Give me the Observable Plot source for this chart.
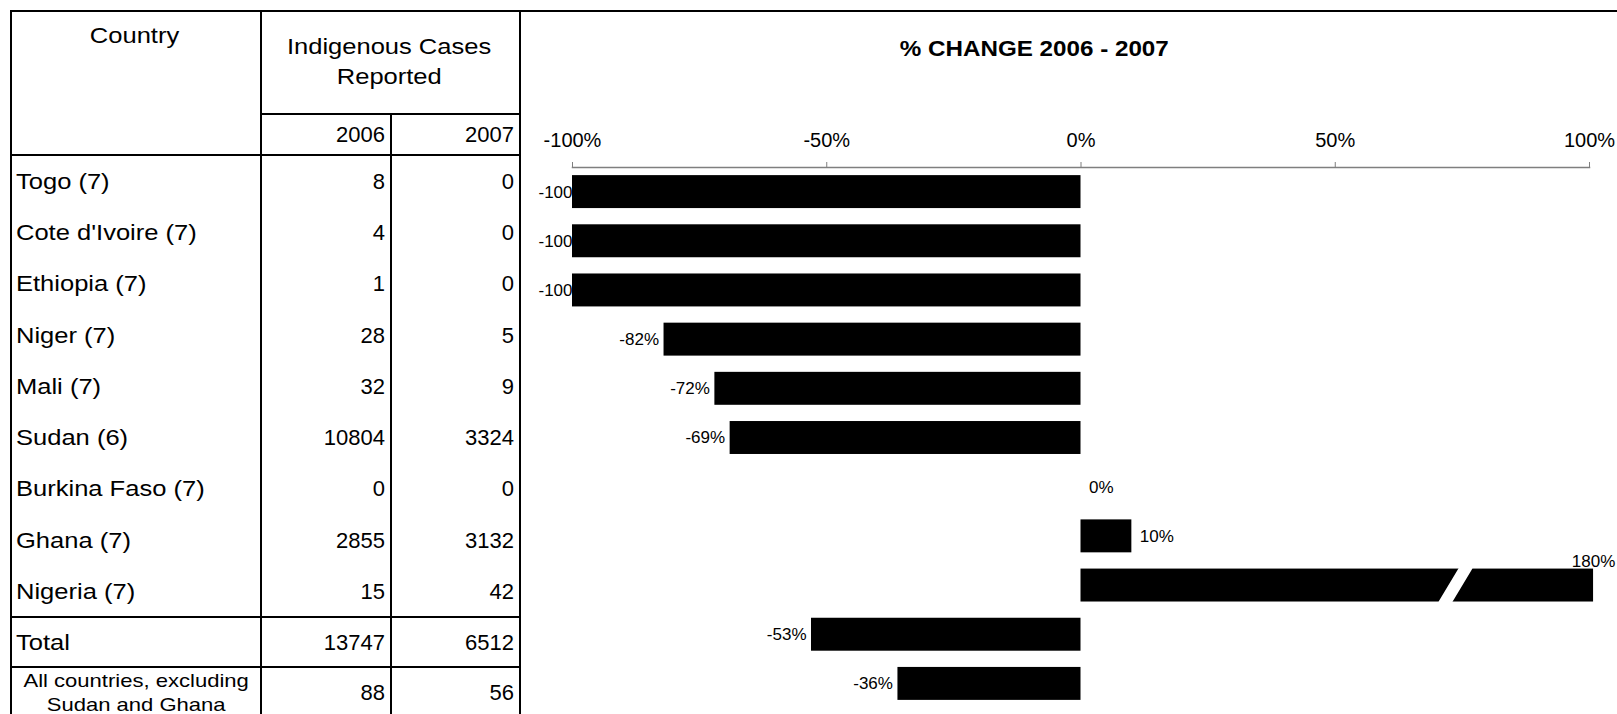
<!DOCTYPE html>
<html>
<head>
<meta charset="utf-8">
<script src="https://cdn.jsdelivr.net/npm/d3@7"></script>
<script src="https://cdn.jsdelivr.net/npm/@observablehq/plot@0.6"></script>
<style>
  html, body { margin: 0; padding: 0; background: #fff; }
  #wrap { position: relative; width: 1617px; height: 714px; overflow: hidden; background: #fff;
          font-family: "Liberation Sans", Arial, sans-serif; color: #000; }
  .ln { position: absolute; background: #000; }
  .cell { position: absolute; display: flex; align-items: center; font-size: 22px; line-height: 1; white-space: nowrap; }
  .l { justify-content: flex-start; padding-left: 4px; box-sizing: border-box; }
  .r { justify-content: flex-end; padding-right: 5px; box-sizing: border-box; }
  .c { justify-content: center; text-align: center; }
  .wide { display: inline-block; transform: scaleX(1.16); }
  .l .wide { transform-origin: left center; }
  .c .wide { transform-origin: center center; }
  #title { position: absolute; left: 834px; width: 400px; top: 36px; text-align: center;
           font-weight: bold; font-size: 22px; }
  #title span { display: inline-block; transform: scaleX(1.1); }
  #chart { position: absolute; left: 0; top: 0; }
</style>
</head>
<body>
<div id="wrap">
  <div id="chart"></div>
  <div id="table"></div>
  <div id="title"><span>% CHANGE 2006 - 2007</span></div>
</div>
<script>
// ---- data ----
const countries = ["Togo (7)", "Cote d'Ivoire (7)", "Ethiopia (7)", "Niger (7)", "Mali (7)", "Sudan (6)",
  "Burkina Faso (7)", "Ghana (7)", "Nigeria (7)", "Total", "All countries, excluding Sudan and Ghana"];
const cases2006 = [8, 4, 1, 28, 32, 10804, 0, 2855, 15, 13747, 88];
const cases2007 = [0, 0, 0, 5, 9, 3324, 0, 3132, 42, 6512, 56];
const pctChange = [-100, -100, -100, -82, -72, -69, 0, 10, 180, -53, -36];
const xTicks = [-100, -50, 0, 50, 100];
const yearLabels = ["2006", "2007"];
const breakClip = 100.8;   // where the broken (off-scale) bar is cut
const breakAt = 73.6;      // position of the break slash

const rows = countries.map((c, i) => ({country: c, y2006: cases2006[i], y2007: cases2007[i], pct: pctChange[i]}));

// ---- table (HTML) ----
const tbl = document.getElementById("table");
function line(x, y, w, h) {
  const d = document.createElement("div"); d.className = "ln";
  Object.assign(d.style, {left: x + "px", top: y + "px", width: w + "px", height: h + "px"});
  tbl.appendChild(d);
}
function cell(cls, x, y, w, h, html, extra) {
  const d = document.createElement("div"); d.className = "cell " + cls;
  Object.assign(d.style, {left: x + "px", top: y + "px", width: w + "px", height: h + "px"}, extra || {});
  d.innerHTML = html; tbl.appendChild(d);
}
const wide = s => `<span class="wide">${s}</span>`;
const X0 = 10, X1 = 260, X2 = 390, X3 = 519;
const Ytop = 10, Yh1 = 113, Yh2 = 154, rowH = 51.3;
// header
line(X0, Ytop, 1617 - X0, 2);
line(X0, Ytop, 2, 714);
line(X1, Ytop, 2, 714);
line(X3, Ytop, 2, 714);
line(X2, Yh1, 2, 714);
line(X1, Yh1, X3 - X1, 2);
line(X0, Yh2, X3 - X0 + 2, 2);
cell("c", X0, 22, X1 - X0, 28, wide("Country"));
cell("c", X1, 32, X3 - X1, 30, wide("Indigenous Cases"));
cell("c", X1, 62, X3 - X1, 30, wide("Reported"));
cell("r", X1, Yh1 + 2, X2 - X1, Yh2 - Yh1 - 2, yearLabels[0]);
cell("r", X2, Yh1 + 2, X3 - X2, Yh2 - Yh1 - 2, yearLabels[1]);
// body
let y = Yh2 + 2;
rows.forEach((r, i) => {
  const h = i < 9 ? rowH : 50;
  if (i === 9) { line(X0, 616, X3 - X0 + 2, 2); y = 618; }
  if (i === 10) { line(X0, 666, X3 - X0 + 2, 2); y = 668; }
  if (i < 10) cell("l", X0 + 2, y, X1 - X0 - 2, h, wide(r.country));
  else cell("c", X0 + 2, y, X1 - X0 - 2, h,
    wide("All countries, excluding<br>Sudan and Ghana"), {fontSize: "19px", lineHeight: "24px"});
  cell("r", X1 + 2, y, X2 - X1 - 2, h, r.y2006);
  cell("r", X2 + 2, y, X3 - X2 - 2, h, r.y2007);
  y += h;
});

// ---- chart (Plot) ----
const fmt = d => d + "%";
const chart = Plot.plot({
  width: 1617,
  height: 714,
  marginLeft: 572,
  marginRight: 28,
  marginTop: 167,
  marginBottom: 6,
  style: {fontFamily: "'Liberation Sans', Arial, sans-serif", background: "transparent", color: "#000"},
  x: {domain: [-100, 100], axis: null, label: null},
  y: {domain: countries, axis: null, paddingInner: 0.33, paddingOuter: 0.165, round: false},
  marks: [
    Plot.frame({anchor: "top", stroke: "#7f7f7f", strokeWidth: 1.5}),
    Plot.axisX(xTicks, {anchor: "top", label: null, tickFormat: fmt, tickSize: 6, tickPadding: 15,
      fontSize: 20, stroke: "#7f7f7f", fill: "#000"}),
    // labels for bars at the scale minimum (partly hidden by the bar, as in the original)
    Plot.text(rows.filter(d => d.pct <= -100), {x: "pct", y: "country", text: d => fmt(d.pct),
      textAnchor: "start", dx: -34, fontSize: 17, fill: "#000"}),
    Plot.barX(rows, {x1: 0, x2: d => Math.min(d.pct, breakClip), y: "country", fill: "#000"}),
    // axis-break slash on the off-scale bar
    Plot.vector(rows.filter(d => d.pct > 100), {x: () => breakAt, y: "country", length: 44, rotate: 31,
      anchor: "middle", stroke: "#fff", strokeWidth: 12,
      shape: {draw(ctx, l) { ctx.moveTo(0, 0); ctx.lineTo(0, -l); }}}),
    Plot.text(rows.filter(d => d.pct < 0 && d.pct > -100), {x: "pct", y: "country", text: d => fmt(d.pct),
      textAnchor: "end", dx: -5, fontSize: 17, fill: "#000"}),
    Plot.text(rows.filter(d => d.pct >= 0 && d.pct <= 100), {x: "pct", y: "country", text: d => fmt(d.pct),
      textAnchor: "start", dx: 8, fontSize: 17, fill: "#000"}),
    Plot.text(rows.filter(d => d.pct > 100), {x: () => breakClip, y: "country", text: d => fmt(d.pct),
      textAnchor: "middle", lineAnchor: "bottom", dy: -19, fontSize: 17, fill: "#000"})
  ]
});
document.getElementById("chart").appendChild(chart);
</script>
</body>
</html>
